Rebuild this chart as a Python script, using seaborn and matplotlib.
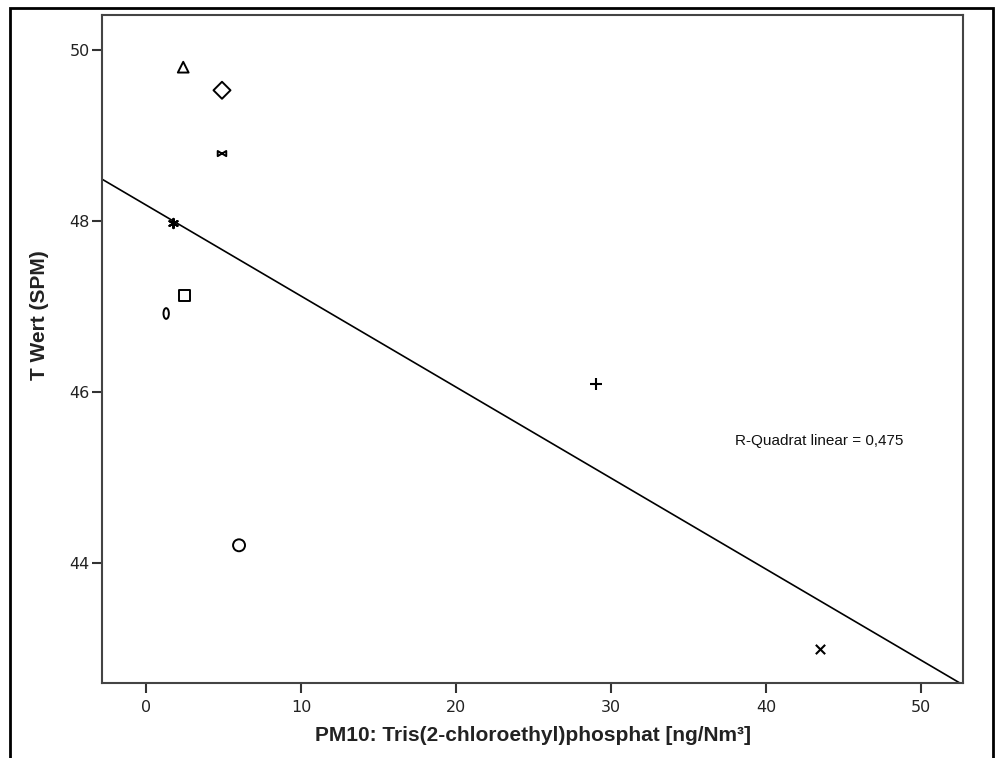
import numpy as np
import pandas as pd
import matplotlib
matplotlib.use("Agg")
import matplotlib.pyplot as plt
from matplotlib.path import Path
from matplotlib.patches import Rectangle
import seaborn as sns

# Measurements per site
x_vals = [2.4, 4.9, 4.9, 1.75, 2.5, 1.3, 29.0, 43.5, 6.0]
y_vals = [49.80, 49.53, 48.79, 47.98, 47.13, 46.92, 46.09, 43.00, 44.21]
site_markers = ["^", "D", "bowtie", "star", "s", "zero", "+", "x", "o"]
x_ticks = [0, 10, 20, 30, 40, 50]
y_ticks = [44, 46, 48, 50]
r2_label = "R-Quadrat linear = 0,475"
x_label = "PM10: Tris(2-chloroethyl)phosphat [ng/Nm³]"
y_label = "T Wert (SPM)"

sns.set_theme(style="white")
plt.rcParams["font.family"] = ["DejaVu Sans"]

# Custom marker shapes
bowtie = Path([(-1, -0.6), (1, 0.6), (1, -0.6), (-1, 0.6), (-1, -0.6)],
              [Path.MOVETO, Path.LINETO, Path.LINETO, Path.LINETO, Path.CLOSEPOLY])
circ = Path.unit_circle()
zero = Path(circ.vertices * np.array([0.5, 1.0]), circ.codes)

marker_style = {
    "^": dict(marker="^", s=60, filled=True),
    "D": dict(marker="D", s=75, filled=True),
    "bowtie": dict(marker=bowtie, s=38, filled=True),
    "star": dict(marker=(6, 2, 0), s=45, filled=False),
    "s": dict(marker="s", s=64, filled=True),
    "zero": dict(marker=zero, s=60, filled=True),
    "+": dict(marker="+", s=75, filled=False),
    "x": dict(marker="x", s=45, filled=False),
    "o": dict(marker="o", s=74, filled=True),
}

fig = plt.figure(figsize=(9.96, 7.58), dpi=100)
ax = fig.add_axes([102 / 996, 1 - 683 / 758, (963 - 102) / 996, (683 - 15) / 758])

ax.set_xlim(-2.84, 52.7)
ax.set_ylim(42.6, 50.41)

df = pd.DataFrame({"x": x_vals, "y": y_vals})
sns.regplot(data=df, x="x", y="y", ax=ax, scatter=False, ci=None, truncate=False,
            line_kws=dict(color="black", lw=1.2))

for xv, yv, m in zip(x_vals, y_vals, site_markers):
    st = marker_style[m]
    if st["filled"]:
        sns.scatterplot(x=[xv], y=[yv], ax=ax, marker=st["marker"], s=st["s"],
                        facecolor="none", edgecolor="black", linewidth=1.4, zorder=3)
    else:
        sns.scatterplot(x=[xv], y=[yv], ax=ax, marker=st["marker"], s=st["s"],
                        color="black", linewidth=1.5, zorder=3)

ax.set_xlim(-2.84, 52.7)
ax.set_ylim(42.6, 50.41)
ax.set_xticks(x_ticks)
ax.set_yticks(y_ticks)
ax.tick_params(direction="out", length=7, width=1.5, color="#333333",
               labelsize=11.5, labelcolor="#222222",
               bottom=True, left=True)
ax.tick_params(axis="x", pad=5)
ax.tick_params(axis="y", pad=2)
for sp in ax.spines.values():
    sp.set_color("#444444")
    sp.set_linewidth(1.5)

ax.set_xlabel(x_label, fontsize=15, fontweight="bold", family="Liberation Sans",
              color="#222222")
ax.set_ylabel(y_label, fontsize=15, fontweight="bold", family="Liberation Sans",
              color="#222222")
ax.xaxis.set_label_coords(0.5, -0.064)
ax.yaxis.set_label_coords(-0.062, 0.55)

ax.text(0.735, 0.362, r2_label, transform=ax.transAxes, fontsize=11,
        family="Liberation Sans", ha="left", va="center", color="#111111")

# Frame around the whole chart
fig.patches.append(Rectangle((10 / 996, -0.1), (993 - 10) / 996, 1.1 - 8 / 758,
                             transform=fig.transFigure, fill=False, lw=2,
                             edgecolor="black", clip_on=False))

fig.savefig("out.png", dpi=100)
